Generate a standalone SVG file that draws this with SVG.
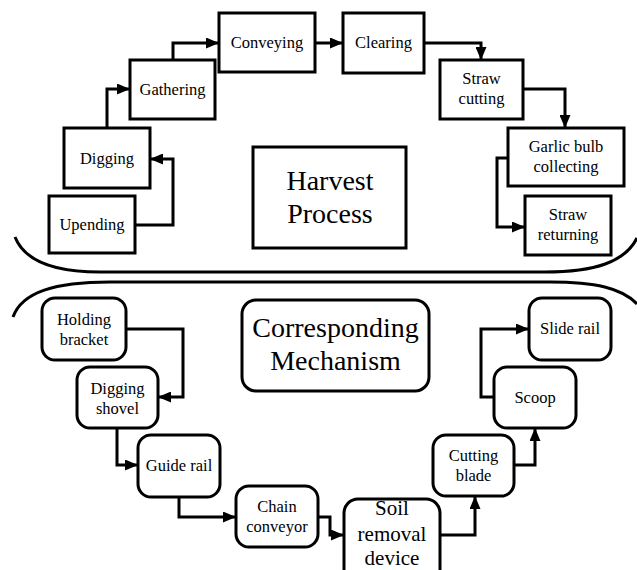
<svg xmlns="http://www.w3.org/2000/svg" width="637" height="570" viewBox="0 0 637 570">
<defs>
<marker id="arr" markerUnits="userSpaceOnUse" markerWidth="13" markerHeight="11" refX="13" refY="5.5" orient="auto">
<path d="M0,0 L13,5.5 L0,11 z" fill="#000"/>
</marker>
<style>
.box{fill:#fff;stroke:#000;stroke-width:3}
text{font-family:'Times New Roman','Liberation Serif','DejaVu Serif',serif;fill:#000;text-anchor:middle}
.lbl{font-size:16.5px}
.big{font-size:28px}
.mid{font-size:21px}
.conn path{fill:none;stroke:#000;stroke-width:3;marker-end:url(#arr)}
.sep{fill:none;stroke:#000;stroke-width:3}
</style>
</defs>
<rect width="637" height="570" fill="#fff"/>
<g id="separators">
<path class="sep" d="M15,237 C25,262 55,272 100,272 H545 C595,272 625,262 637,238"/>
<path class="sep" d="M13,317 C22,292 55,282 110,282 H550 C595,282 622,288 637,304"/>
</g>
<g id="upending"><rect class="box" x="49" y="196" width="86" height="57"/><text class="lbl" x="92" y="230">Upending</text></g>
<g id="digging"><rect class="box" x="64" y="128" width="86" height="60"/><text class="lbl" x="107" y="164">Digging</text></g>
<g id="gathering"><rect class="box" x="130" y="60" width="85" height="59"/><text class="lbl" x="172.5" y="95">Gathering</text></g>
<g id="conveying"><rect class="box" x="219" y="13" width="96" height="59"/><text class="lbl" x="267" y="48">Conveying</text></g>
<g id="clearing"><rect class="box" x="343" y="13" width="81" height="60"/><text class="lbl" x="383.5" y="48">Clearing</text></g>
<g id="straw-cutting"><rect class="box" x="440" y="60" width="83" height="59"/><text class="lbl" x="481.5" y="84">Straw</text><text class="lbl" x="481.5" y="104">cutting</text></g>
<g id="garlic-bulb-collecting"><rect class="box" x="508" y="128" width="116" height="58"/><text class="lbl" x="566" y="152">Garlic bulb</text><text class="lbl" x="566" y="172">collecting</text></g>
<g id="straw-returning"><rect class="box" x="525" y="196" width="86" height="59"/><text class="lbl" x="568" y="220">Straw</text><text class="lbl" x="568" y="240">returning</text></g>
<g id="harvest-process"><rect class="box" x="253" y="147" width="153" height="101"/><text class="big" x="330" y="190">Harvest</text><text class="big" x="330" y="223">Process</text></g>

<g id="holding-bracket"><rect class="box" x="42" y="298" width="84" height="62" rx="13"/><text class="lbl" x="84" y="325">Holding</text><text class="lbl" x="84" y="345">bracket</text></g>
<g id="digging-shovel"><rect class="box" x="77" y="367" width="81" height="61" rx="13"/><text class="lbl" x="117.5" y="394">Digging</text><text class="lbl" x="117.5" y="414">shovel</text></g>
<g id="guide-rail"><rect class="box" x="138" y="435" width="82" height="62" rx="13"/><text class="lbl" x="179" y="471">Guide rail</text></g>
<g id="chain-conveyor"><rect class="box" x="236" y="486" width="82" height="61" rx="13"/><text class="lbl" x="277" y="512">Chain</text><text class="lbl" x="277" y="532">conveyor</text></g>
<g id="soil-removal-device"><rect class="box" x="344" y="499" width="96" height="90" rx="14"/><text class="mid" x="392" y="515">Soil</text><text class="mid" x="392" y="541">removal</text><text class="mid" x="392" y="565">device</text></g>
<g id="cutting-blade"><rect class="box" x="433" y="435" width="81" height="61" rx="13"/><text class="lbl" x="473.5" y="461">Cutting</text><text class="lbl" x="473.5" y="481">blade</text></g>
<g id="scoop"><rect class="box" x="494" y="367" width="82" height="61" rx="13"/><text class="lbl" x="535" y="403">Scoop</text></g>
<g id="slide-rail"><rect class="box" x="529" y="298" width="82" height="62" rx="13"/><text class="lbl" x="570" y="334">Slide rail</text></g>
<g id="corresponding-mechanism"><rect class="box" x="242" y="300" width="187" height="91" rx="14"/><text class="big" x="335.5" y="337">Corresponding</text><text class="big" x="335.5" y="370">Mechanism</text></g>

<g id="connectors" class="conn">
<path d="M135,225 H173 V159 H150"/>
<path d="M107,128 V89 H130"/>
<path d="M173,60 V43 H219"/>
<path d="M315,43 H343"/>
<path d="M424,43 H481 V60"/>
<path d="M523,89 H565 V128"/>
<path d="M508,158 H497 V227 H525"/>
<path d="M126,329 H183 V397 H158"/>
<path d="M117,428 V465 H138"/>
<path d="M179,497 V517 H236"/>
<path d="M318,517 H330 V535 H344"/>
<path d="M440,535 H475 V496"/>
<path d="M514,465 H535 V428"/>
<path d="M494,397 H481 V329 H529"/>
</g>
</svg>
